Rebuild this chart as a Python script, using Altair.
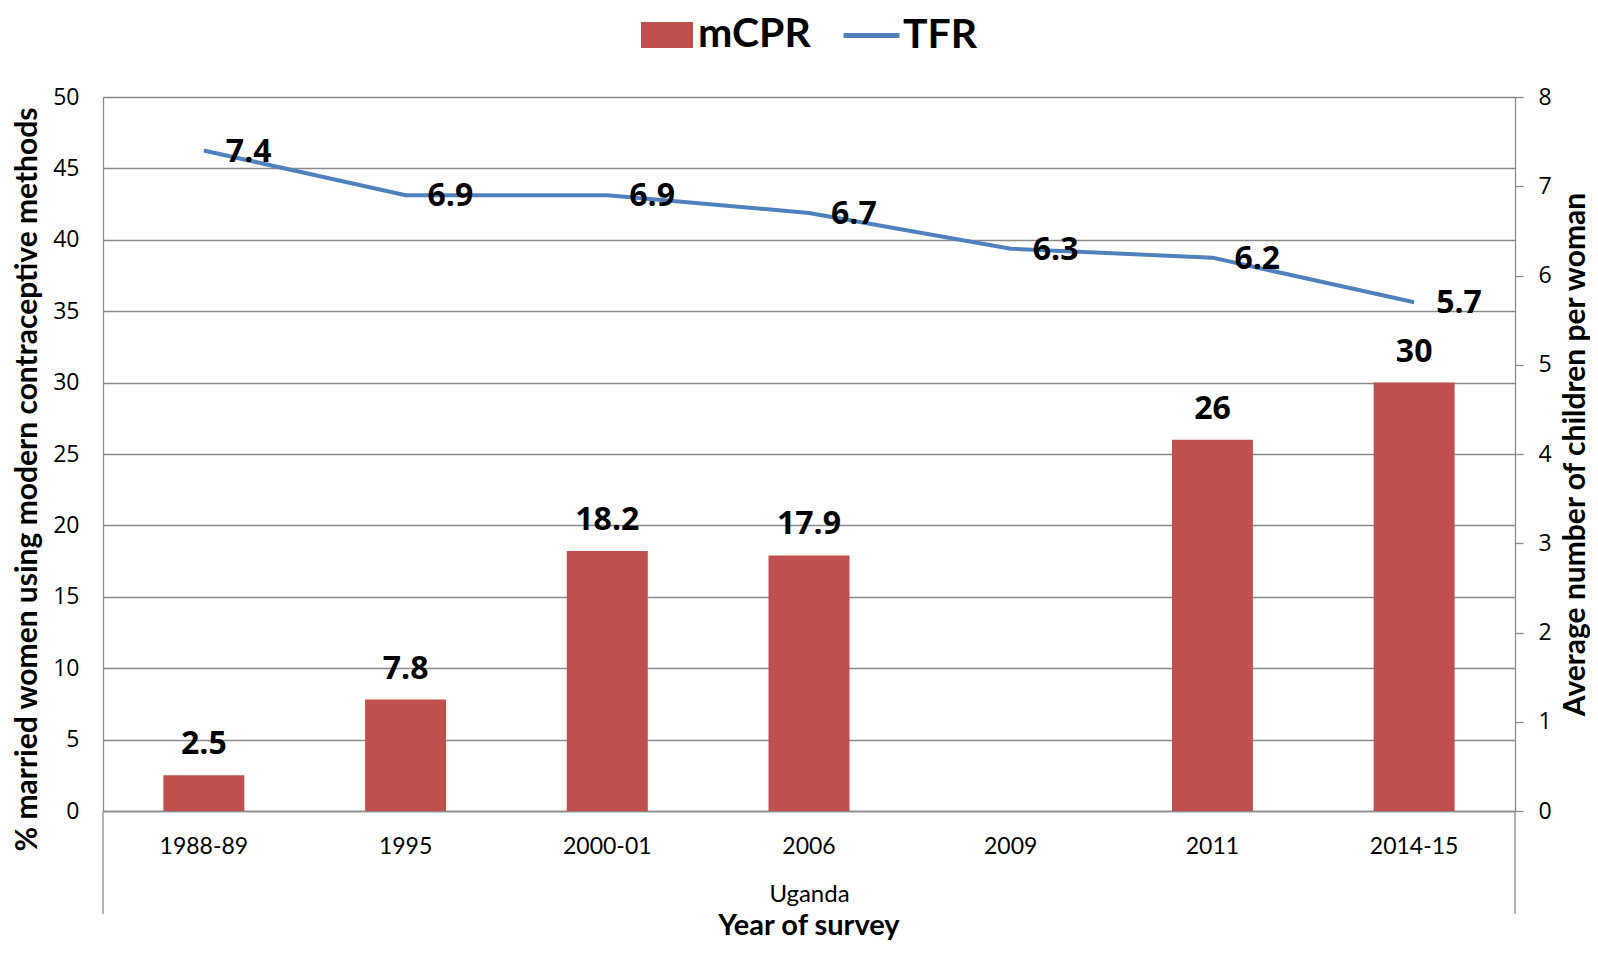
import altair as alt
import pandas as pd

# ---- data ----
years = ["1988-89", "1995", "2000-01", "2006", "2009", "2011", "2014-15"]
mcpr = [2.5, 7.8, 18.2, 17.9, None, 26, 30]
tfr = [7.4, 6.9, 6.9, 6.7, 6.3, 6.2, 5.7]
mcpr_ticks = [0, 5, 10, 15, 20, 25, 30, 35, 40, 45, 50]
tfr_ticks = [0, 1, 2, 3, 4, 5, 6, 7, 8]

df = pd.DataFrame({"year": years, "mCPR": mcpr, "TFR": tfr})
bar_df = df.dropna(subset=["mCPR"]).assign(series="mCPR")
line_df = df.assign(series="TFR")
edge_df = pd.DataFrame({"edge": ["left"]})

RED = "#C0504D"
BLUE = "#4F81BD"
GRID = "#8A8A8A"
W, H = 1412, 714

x_enc = alt.X(
    "year:N",
    sort=years,
    scale=alt.Scale(domain=years, paddingInner=0, paddingOuter=0),
    axis=alt.Axis(
        title="Uganda", labelAngle=0, labelFont="Lato", labelFontSize=23,
        labelColor="black", labelPadding=24, ticks=False,
        domainColor=GRID, domainWidth=1.3,
        titleFont="Lato", titleFontWeight="normal", titleFontSize=24,
        titleColor="black", titleBaseline="alphabetic", titleY=90,
    ),
)

y_left = alt.Y(
    "mCPR:Q",
    scale=alt.Scale(domain=[0, 50], nice=False),
    axis=alt.Axis(
        orient="left", values=mcpr_ticks, grid=True, gridColor=GRID, gridWidth=1.3,
        ticks=False, domainColor=GRID, domainWidth=1.3,
        labelFont="Open Sans", labelFontSize=23, labelColor="black", labelPadding=24,
        title="% married women using modern contraceptive methods",
        titleFont="Lato", titleFontSize=30, titleFontWeight="bold", titleColor="black",
        titleAngle=270, titleX=-76, titleY=382, titleAlign="center", titleBaseline="middle",
    ),
)

y_right = alt.Y(
    "TFR:Q",
    scale=alt.Scale(domain=[0, 8], nice=False),
    axis=alt.Axis(
        orient="right", values=tfr_ticks, grid=False,
        ticks=True, tickSize=8, tickColor=GRID, tickWidth=1.3,
        domainColor=GRID, domainWidth=1.3,
        labelFont="Open Sans", labelFontSize=23, labelColor="black", labelPadding=15,
        title="Average number of children per woman",
        titleFont="Lato", titleFontSize=30, titleFontWeight="bold", titleColor="black",
        titleAngle=270, titleX=69, titleY=357, titleAlign="center", titleBaseline="alphabetic",
    ),
)

bars = alt.Chart(bar_df).mark_bar(size=81).encode(
    x=x_enc,
    y=y_left,
    fill=alt.Fill(
        "series:N",
        scale=alt.Scale(domain=["mCPR"], range=[RED]),
        legend=alt.Legend(
            title=None, orient="none", legendX=538, legendY=-88, padding=0,
            symbolType="M-1,-0.5H1V0.5H-1Z", symbolSize=2704, symbolStrokeWidth=0,
            symbolOpacity=1,
            labelFont="Lato", labelFontWeight="bold", labelFontSize=41,
            labelColor="black", labelOffset=5, labelLimit=400,
        ),
    ),
)

bar_text = alt.Chart(bar_df).mark_text(
    font="Open Sans", fontWeight="bold", fontSize=32, color="black",
    baseline="alphabetic", align="center", dy=-21,
).encode(x=x_enc, y=y_left, text=alt.Text("mCPR:Q", format="~g"))

edges = alt.Chart(edge_df).mark_rule(color=GRID, strokeWidth=1.3).encode(
    x=alt.value(0), y=alt.value(H), y2=alt.value(H + 103)
)
edges_r = alt.Chart(edge_df).mark_rule(color=GRID, strokeWidth=1.3).encode(
    x=alt.value(W), y=alt.value(H), y2=alt.value(H + 103)
)

line = alt.Chart(line_df).mark_line(strokeWidth=4).encode(
    x=x_enc,
    y=y_right,
    stroke=alt.Stroke(
        "series:N",
        scale=alt.Scale(domain=["TFR"], range=[BLUE]),
        legend=alt.Legend(
            title=None, orient="none", legendX=738, legendY=-92, padding=0,
            symbolType="stroke", symbolSize=3136, symbolStrokeWidth=5,
            labelFont="Lato", labelFontWeight="bold", labelFontSize=41,
            labelColor="black", labelOffset=1, labelLimit=400,
        ),
    ),
)

line_text = alt.Chart(line_df).mark_text(
    font="Open Sans", fontWeight="bold", fontSize=32, color="black",
    baseline="alphabetic", align="left", dx=22, dy=11,
).encode(x=x_enc, y=y_right, text=alt.Text("TFR:Q", format=".1f"))

left_layer = alt.layer(bars, bar_text, edges, edges_r)
right_layer = alt.layer(line, line_text)

chart = (
    alt.layer(left_layer, right_layer)
    .resolve_scale(y="independent", fill="independent", stroke="independent")
    .properties(
        width=W,
        height=H,
        autosize=alt.AutoSizeParams(type="none"),
        padding={"left": 95, "top": 89, "right": 75, "bottom": 131},
        title=alt.TitleParams(
            "Year of survey", orient="bottom", font="Lato", fontSize=29,
            fontWeight="bold", color="black", anchor="middle", frame="group", offset=-3,
        ),
    )
    .configure_view(stroke=None)
)

chart.save("out.html", embed_options={"renderer": "svg", "actions": False})
